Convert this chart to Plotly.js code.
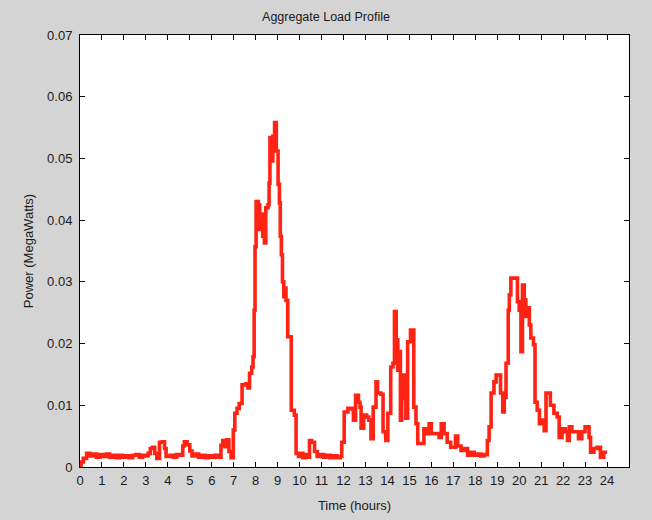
<!DOCTYPE html>
<html>
<head>
<meta charset="utf-8">
<script src="https://cdn.plot.ly/plotly-3.0.1.min.js"></script>
<style>html,body{margin:0;padding:0;background:#d4d4d4;}#chart{width:652px;height:520px;}</style>
</head>
<body>
<div id="chart"></div>
<script>
var hours = [0.00,0.05,0.15,0.30,0.45,0.60,0.75,0.90,1.05,1.20,1.35,1.50,1.65,1.80,1.95,2.10,2.25,2.40,2.55,2.70,2.85,3.00,3.10,3.20,3.30,3.40,3.50,3.62,3.75,3.85,3.92,4.10,4.25,4.40,4.55,4.68,4.75,4.88,5.00,5.10,5.25,5.40,5.55,5.70,5.85,6.00,6.15,6.30,6.42,6.50,6.60,6.68,6.78,6.88,6.98,7.05,7.15,7.25,7.38,7.55,7.65,7.72,7.82,7.88,7.93,7.97,8.02,8.12,8.18,8.24,8.32,8.40,8.46,8.56,8.61,8.65,8.72,8.78,8.86,8.94,9.02,9.08,9.12,9.17,9.22,9.28,9.33,9.38,9.46,9.62,9.76,9.84,9.95,10.05,10.15,10.25,10.35,10.45,10.55,10.68,10.80,10.95,11.10,11.25,11.40,11.55,11.70,11.85,11.92,12.03,12.20,12.38,12.45,12.55,12.68,12.75,12.80,12.92,13.05,13.15,13.25,13.35,13.48,13.55,13.70,13.80,13.92,14.02,14.15,14.25,14.32,14.40,14.47,14.54,14.59,14.65,14.76,14.84,14.92,15.05,15.20,15.30,15.38,15.66,15.82,15.90,16.00,16.35,16.45,16.58,16.72,16.88,17.10,17.20,17.35,17.50,17.65,17.80,17.95,18.10,18.25,18.40,18.55,18.63,18.72,18.85,18.95,19.15,19.25,19.32,19.40,19.50,19.55,19.62,19.92,20.00,20.08,20.15,20.23,20.30,20.38,20.46,20.53,20.65,20.72,20.82,20.92,21.05,21.14,21.22,21.42,21.58,21.73,21.82,21.95,22.10,22.20,22.28,22.40,22.70,22.85,23.00,23.18,23.25,23.40,23.55,23.70,23.85,24.00];
var powerMW = [0.0002,0.0008,0.0014,0.0022,0.0018,0.0021,0.0016,0.0020,0.0017,0.0021,0.0016,0.0019,0.0015,0.0019,0.0016,0.0018,0.0015,0.0019,0.0020,0.0016,0.0019,0.0018,0.0022,0.0030,0.0032,0.0022,0.0014,0.0040,0.0041,0.0030,0.0017,0.0019,0.0016,0.0020,0.0019,0.0034,0.0041,0.0036,0.0026,0.0018,0.0021,0.0016,0.0019,0.0015,0.0018,0.0016,0.0019,0.0016,0.0035,0.0043,0.0033,0.0044,0.0025,0.0015,0.0060,0.0087,0.0095,0.0103,0.0133,0.0135,0.0128,0.0152,0.0162,0.0179,0.0254,0.0357,0.0430,0.0425,0.0385,0.0410,0.0374,0.0363,0.0420,0.0425,0.0460,0.0534,0.0496,0.0536,0.0558,0.0512,0.0458,0.0428,0.0374,0.0344,0.0300,0.0276,0.0290,0.0270,0.0211,0.0092,0.0084,0.0022,0.0017,0.0022,0.0015,0.0020,0.0016,0.0043,0.0040,0.0025,0.0017,0.0020,0.0016,0.0019,0.0015,0.0018,0.0015,0.0017,0.0040,0.0089,0.0095,0.0094,0.0076,0.0116,0.0105,0.0097,0.0063,0.0084,0.0081,0.0076,0.0046,0.0097,0.0138,0.0120,0.0118,0.0057,0.0043,0.0087,0.0162,0.0168,0.0252,0.0206,0.0157,0.0187,0.0076,0.0149,0.0111,0.0079,0.0203,0.0222,0.0097,0.0070,0.0038,0.0062,0.0054,0.0070,0.0054,0.0048,0.0070,0.0054,0.0040,0.0032,0.0050,0.0034,0.0027,0.0030,0.0019,0.0024,0.0019,0.0021,0.0018,0.0020,0.0043,0.0065,0.0120,0.0138,0.0149,0.0120,0.0089,0.0113,0.0168,0.0254,0.0279,0.0306,0.0268,0.0254,0.0187,0.0295,0.0271,0.0244,0.0258,0.0230,0.0209,0.0198,0.0105,0.0092,0.0070,0.0076,0.0059,0.0120,0.0100,0.0087,0.0081,0.0048,0.0062,0.0057,0.0043,0.0065,0.0057,0.0046,0.0057,0.0065,0.0048,0.0024,0.0030,0.0032,0.0016,0.0024,0.0024];
var xTicks = [0,1,2,3,4,5,6,7,8,9,10,11,12,13,14,15,16,17,18,19,20,21,22,23,24];
var yTicks = [0,0.01,0.02,0.03,0.04,0.05,0.06,0.07];
var yTickLabels = ["0","0.01","0.02","0.03","0.04","0.05","0.06","0.07"];

var trace = {
  x: hours, y: powerMW, type: 'scatter', mode: 'lines',
  line: {color: '#ff2313', width: 3.6, shape: 'hv'},
  hoverinfo: 'skip'
};
var fnt = {family: 'Liberation Sans, Arial, sans-serif', size: 13, color: '#1a1a1a'};
var layout = {
  width: 652, height: 520,
  paper_bgcolor: '#d4d4d4', plot_bgcolor: '#ffffff',
  margin: {l: 80, r: 23, t: 35, b: 53},
  showlegend: false,
  title: {text: 'Aggregate Load Profile', font: {family: fnt.family, size: 12.5, color: '#1a1a1a'}, x: 0.5, xanchor: 'center', y: 1, yref: 'container', yanchor: 'top', pad: {t: 12}},
  xaxis: {
    range: [0, 25], tickvals: xTicks, ticktext: xTicks.map(String),
    ticks: 'inside', ticklen: 5, tickcolor: '#000', tickwidth: 1,
    showline: true, linecolor: '#000', linewidth: 1, mirror: 'ticks',
    showgrid: false, zeroline: false, tickfont: fnt, ticklabelstandoff: 1,
    title: {text: 'Time (hours)', font: {family: fnt.family, size: 13, color: '#1a1a1a'}, standoff: 14}
  },
  yaxis: {
    range: [0, 0.07], tickvals: yTicks, ticktext: yTickLabels,
    ticks: 'inside', ticklen: 5, tickcolor: '#000', tickwidth: 1,
    showline: true, linecolor: '#000', linewidth: 1, mirror: 'ticks',
    showgrid: false, zeroline: false, tickfont: fnt, ticklabelstandoff: 4,
    title: {text: 'Power (MegaWatts)', font: {family: fnt.family, size: 13, color: '#1a1a1a'}, standoff: 10}
  }
};
Plotly.newPlot('chart', [trace], layout, {displayModeBar: false, staticPlot: true});
</script>
</body>
</html>
